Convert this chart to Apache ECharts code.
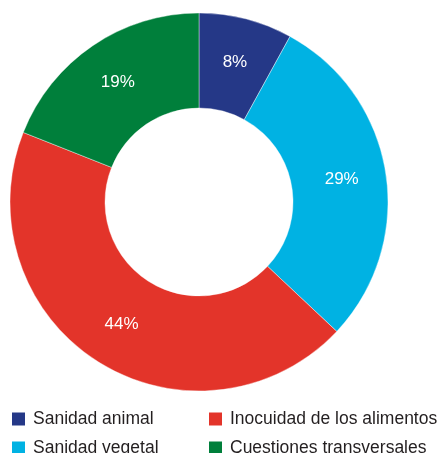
<!DOCTYPE html>
<html>
<head>
<meta charset="utf-8">
<script src="https://cdn.jsdelivr.net/npm/echarts@6/dist/echarts.min.js"></script>
<style>
  html, body { margin: 0; padding: 0; background: #fff; }
  #chart { width: 437px; height: 453px; }
</style>
</head>
<body>
<div id="chart"></div>
<script>
const categories = ['Sanidad animal', 'Sanidad vegetal', 'Inocuidad de los alimentos', 'Cuestiones transversales']
const shares = [8, 29, 44, 19]
const colors = ['#253887', '#00b2e3', '#e3342a', '#007f3b']

const legendLeft = [categories[0], categories[1]]
const legendRight = [categories[2], categories[3]]

const myChart = echarts.init(document.getElementById('chart'))

const legendBase = {
  orient: 'vertical',
  top: 410,
  height: 80,
  padding: 0,
  itemWidth: 15,
  itemHeight: 15,
  itemGap: 11,
  icon: 'rect',
  textStyle: {
    fontFamily: 'Liberation Sans',
    fontSize: 17.5,
    color: '#231f20',
    padding: [0, 0, 0, 2]
  }
}

const option = {
  animation: false,
  color: colors,
  legend: [
    Object.assign({}, legendBase, { left: 10, data: legendLeft }),
    Object.assign({}, legendBase, { left: 207, data: legendRight })
  ],
  series: [
    {
      type: 'pie',
      center: [199, 202],
      radius: [94, 189],
      startAngle: 90,
      clockwise: true,
      avoidLabelOverlap: false,
      itemStyle: { borderColor: '#fff', borderWidth: 0.4 },
      label: {
        show: true,
        position: 'inside',
        formatter: '{c}%',
        color: '#fff',
        fontFamily: 'Liberation Sans',
        fontSize: 17
      },
      labelLine: { show: false },
      data: categories.map((name, i) => ({ name: name, value: shares[i] }))
    }
  ]
}

myChart.setOption(option)
</script>
</body>
</html>
